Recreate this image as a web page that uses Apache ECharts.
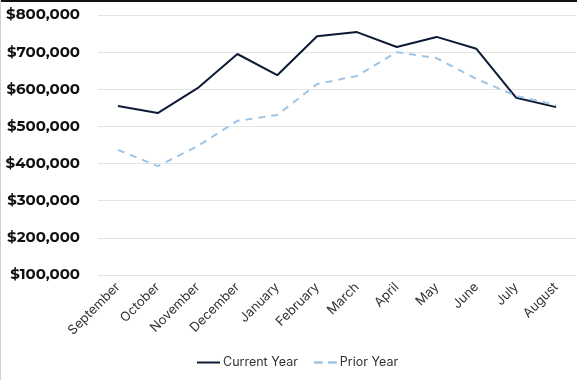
<!DOCTYPE html>
<html><head><meta charset="utf-8">
<script src="https://cdn.jsdelivr.net/npm/echarts@6/dist/echarts.min.js"></script>
<style>html,body{margin:0;padding:0;background:#fff}#c{width:577px;height:380px}</style>
</head><body><div id="c"></div>
<script>
var months = ['September','October','November','December','January','February','March','April','May','June','July','August'];
var currentYear = [555000,536000,603000,695000,638000,743000,754000,714000,741000,709000,577000,552000];
var priorYear = [437000,393000,447000,515000,531000,614000,636000,700000,684000,628000,582000,558000];
var yTicks = {min:100000, max:800000, interval:100000};

var chart = echarts.init(document.getElementById('c'));
chart.setOption({
  animation:false,
  backgroundColor:'#fff',
  graphic:[
    {type:'rect', shape:{x:0,y:0,width:577,height:2}, style:{fill:'#111'}},
    {type:'rect', shape:{x:0,y:0,width:1,height:380}, style:{fill:'#d0d0d0'}}
  ],
  grid:{left:98, right:1, top:15, bottom:105},
  legend:{
    bottom:6, left:192,
    itemWidth:23, itemHeight:10, itemGap:16,
    textStyle:{fontFamily:'Inter', fontSize:12.5, color:'#333', padding:[0,0,0,-2]},
    data:[
      {name:'Current Year', icon:'path://M0,4h23v2h-23z', itemStyle:{color:'#0e1a35'}},
      {name:'Prior Year', icon:'path://M0,4h7v2h-7zM11,4h7v2h-7z', itemStyle:{color:'#9ec4e6'}}
    ]
  },
  xAxis:{
    type:'category', data:months, boundaryGap:true,
    axisLine:{show:false}, axisTick:{show:false},
    axisLabel:{rotate:45, color:'#333', fontFamily:'Inter', fontSize:13, margin:10, interval:0}
  },
  yAxis:{
    type:'value', min:yTicks.min, max:yTicks.max, interval:yTicks.interval,
    axisLine:{show:false}, axisTick:{show:false},
    splitLine:{lineStyle:{color:'#e4e4e4', width:1}},
    axisLabel:{
      color:'#111', fontFamily:'Montserrat, Inter, sans-serif', fontWeight:'bold', fontSize:15, margin:18,
      formatter:function(v){return '$'+v.toLocaleString('en-US');}
    }
  },
  series:[
    {name:'Current Year', type:'line', data:currentYear, symbol:'none',
     itemStyle:{color:'#0e1a35'}, lineStyle:{color:'#0e1a35', width:2}},
    {name:'Prior Year', type:'line', data:priorYear, symbol:'none',
     itemStyle:{color:'#9ec4e6'}, lineStyle:{color:'#9ec4e6', width:2, type:[7,6]}}
  ]
});
</script></body></html>
